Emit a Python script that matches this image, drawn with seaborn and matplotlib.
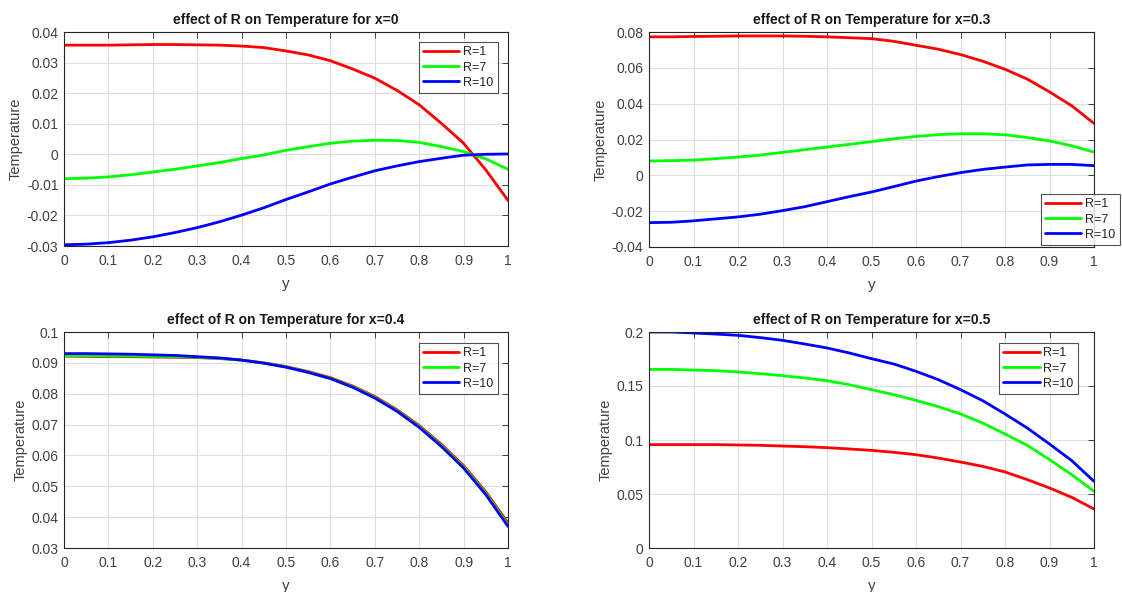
import numpy as np
import pandas as pd
import seaborn as sns
import matplotlib.pyplot as plt

y_vals = [0.0, 0.05, 0.1, 0.15, 0.2, 0.25, 0.3, 0.35, 0.4, 0.45, 0.5,
          0.55, 0.6, 0.65, 0.7, 0.75, 0.8, 0.85, 0.9, 0.95, 1.0]

# x = 0
t0_r1  = [0.0357, 0.0357, 0.0357, 0.0358, 0.0359, 0.0359, 0.0358, 0.0357, 0.0354, 0.0349, 0.0338,
          0.0325, 0.0306, 0.0279, 0.0249, 0.0209, 0.0162, 0.0101, 0.0036, -0.0051, -0.0151]
t0_r7  = [-0.0080, -0.0078, -0.0074, -0.0067, -0.0058, -0.0049, -0.0038, -0.0027, -0.0014, -0.0002, 0.0013,
          0.0025, 0.0036, 0.0043, 0.0046, 0.0045, 0.0039, 0.0025, 0.0009, -0.0015, -0.0049]
t0_r10 = [-0.0296, -0.0294, -0.0289, -0.0281, -0.0270, -0.0256, -0.0240, -0.0221, -0.0199, -0.0175, -0.0148,
          -0.0123, -0.0097, -0.0075, -0.0054, -0.0038, -0.0024, -0.0013, -0.0003, 0.0000, 0.0001]

# x = 0.3
t3_r1  = [0.0773, 0.0773, 0.0775, 0.0776, 0.0778, 0.0778, 0.0778, 0.0776, 0.0773, 0.0768, 0.0763,
          0.0748, 0.0726, 0.0704, 0.0674, 0.0637, 0.0592, 0.0537, 0.0466, 0.0388, 0.0290]
t3_r7  = [0.0080, 0.0082, 0.0085, 0.0093, 0.0102, 0.0113, 0.0128, 0.0143, 0.0158, 0.0173, 0.0188,
          0.0204, 0.0217, 0.0227, 0.0232, 0.0232, 0.0226, 0.0211, 0.0192, 0.0165, 0.0130]
t3_r10 = [-0.0264, -0.0262, -0.0254, -0.0243, -0.0232, -0.0217, -0.0197, -0.0175, -0.0147, -0.0119, -0.0093,
          -0.0063, -0.0032, -0.0007, 0.0015, 0.0033, 0.0046, 0.0058, 0.0061, 0.0061, 0.0054]

# x = 0.4
t4_r1  = [0.0922, 0.0921, 0.0920, 0.0920, 0.0919, 0.0918, 0.0917, 0.0914, 0.0909, 0.0900, 0.0888,
          0.0872, 0.0852, 0.0825, 0.0791, 0.0748, 0.0697, 0.0636, 0.0567, 0.0482, 0.0381]
t4_r7  = [0.0923, 0.0923, 0.0922, 0.0922, 0.0921, 0.0920, 0.0918, 0.0915, 0.0909, 0.0899, 0.0887,
          0.0870, 0.0850, 0.0823, 0.0788, 0.0745, 0.0694, 0.0632, 0.0563, 0.0477, 0.0375]
t4_r10 = [0.0930, 0.0930, 0.0929, 0.0928, 0.0926, 0.0924, 0.0920, 0.0916, 0.0909, 0.0899, 0.0886,
          0.0869, 0.0849, 0.0821, 0.0786, 0.0743, 0.0691, 0.0629, 0.0559, 0.0473, 0.0370]

# x = 0.5
t5_r1  = [0.0957, 0.0957, 0.0957, 0.0957, 0.0954, 0.0951, 0.0944, 0.0938, 0.0929, 0.0917, 0.0904,
          0.0886, 0.0864, 0.0833, 0.0796, 0.0756, 0.0704, 0.0633, 0.0556, 0.0469, 0.0361]
t5_r7  = [0.1654, 0.1654, 0.1648, 0.1642, 0.1630, 0.1614, 0.1596, 0.1574, 0.1549, 0.1512, 0.1466,
          0.1420, 0.1367, 0.1309, 0.1241, 0.1157, 0.1056, 0.0951, 0.0818, 0.0679, 0.0525]
t5_r10 = [0.2000, 0.2000, 0.1991, 0.1981, 0.1969, 0.1948, 0.1923, 0.1889, 0.1852, 0.1806, 0.1753,
          0.1704, 0.1636, 0.1559, 0.1466, 0.1364, 0.1241, 0.1111, 0.0963, 0.0809, 0.0617]

labels = ["R=1", "R=7", "R=10"]
colors = {"R=1": "#ff0000", "R=7": "#00ff00", "R=10": "#0000ff"}

panels = [
    ("effect of R on Temperature for x=0",   [t0_r1, t0_r7, t0_r10], (-0.03, 0.04), 0.01),
    ("effect of R on Temperature for x=0.3", [t3_r1, t3_r7, t3_r10], (-0.04, 0.08), 0.02),
    ("effect of R on Temperature for x=0.4", [t4_r1, t4_r7, t4_r10], (0.03, 0.1), 0.01),
    ("effect of R on Temperature for x=0.5", [t5_r1, t5_r7, t5_r10], (0.0, 0.2), 0.05),
]

# axes boxes in pixels: left, top, right, bottom
boxes = [(64, 32, 508, 246), (649, 32, 1094, 247), (64, 332, 508, 548), (649, 332, 1094, 548)]
legend_locs = [
    dict(loc="upper right", bbox_to_anchor=(0.977, 0.953)),
    dict(loc="lower right", bbox_to_anchor=(1.058, 0.009)),
    dict(loc="upper right", bbox_to_anchor=(0.977, 0.949)),
    dict(loc="upper right", bbox_to_anchor=(0.964, 0.949)),
]

sns.set_style("white")
plt.rcParams['font.family'] = ['Liberation Sans', 'DejaVu Sans']

W, H = 1122, 592
fig = plt.figure(figsize=(W / 100, H / 100), dpi=100)

for (title, series, ylim, ystep), (l, t, r, b), lg in zip(panels, boxes, legend_locs):
    ax = fig.add_axes([l / W, 1 - b / H, (r - l) / W, (b - t) / H])
    df = pd.DataFrame({
        "y": np.tile(y_vals, 3),
        "T": np.concatenate(series),
        "R": np.repeat(labels, len(y_vals)),
    })
    sns.lineplot(data=df, x="y", y="T", hue="R", hue_order=labels, palette=colors,
                 linewidth=2, ax=ax)
    ax.set_xlim(0, 1)
    ax.set_ylim(*ylim)
    ax.set_xticks(np.arange(0, 1.01, 0.1))
    ax.set_xticklabels(["0"] + [f"{v:.1f}" for v in np.arange(0.1, 0.95, 0.1)] + ["1"])
    yt = np.arange(ylim[0], ylim[1] + ystep / 2, ystep)
    ax.set_yticks(yt)
    ax.set_yticklabels([("0" if abs(v) < 1e-9 else f"{v:g}") for v in yt])
    ax.grid(True, color="#dedede", linewidth=0.8)
    ax.tick_params(direction="in", length=4, top=True, right=True, labelsize=10,
                   colors="#262626", labelcolor="#404040", width=0.6, pad=4)
    ax.tick_params(axis="x", pad=6)
    for s in ax.spines.values():
        s.set_color("#262626")
        s.set_linewidth(0.8)
    ax.set_title(title, fontsize=10, fontweight="bold", color="#1a1a1a", pad=6)
    ax.set_xlabel("y", fontsize=11, color="#404040", labelpad=6)
    ax.set_ylabel("Temperature", fontsize=10.5, color="#404040", labelpad=3)
    leg = ax.legend(fontsize=9, frameon=True, fancybox=False, edgecolor="#262626",
                    handlelength=2.9, handletextpad=0.3, borderpad=0.35, labelspacing=0.25,
                    borderaxespad=0, **lg)
    leg.get_frame().set_linewidth(0.8)
    for line in leg.get_lines():
        line.set_linewidth(2)

fig.savefig("out.png", dpi=100)
